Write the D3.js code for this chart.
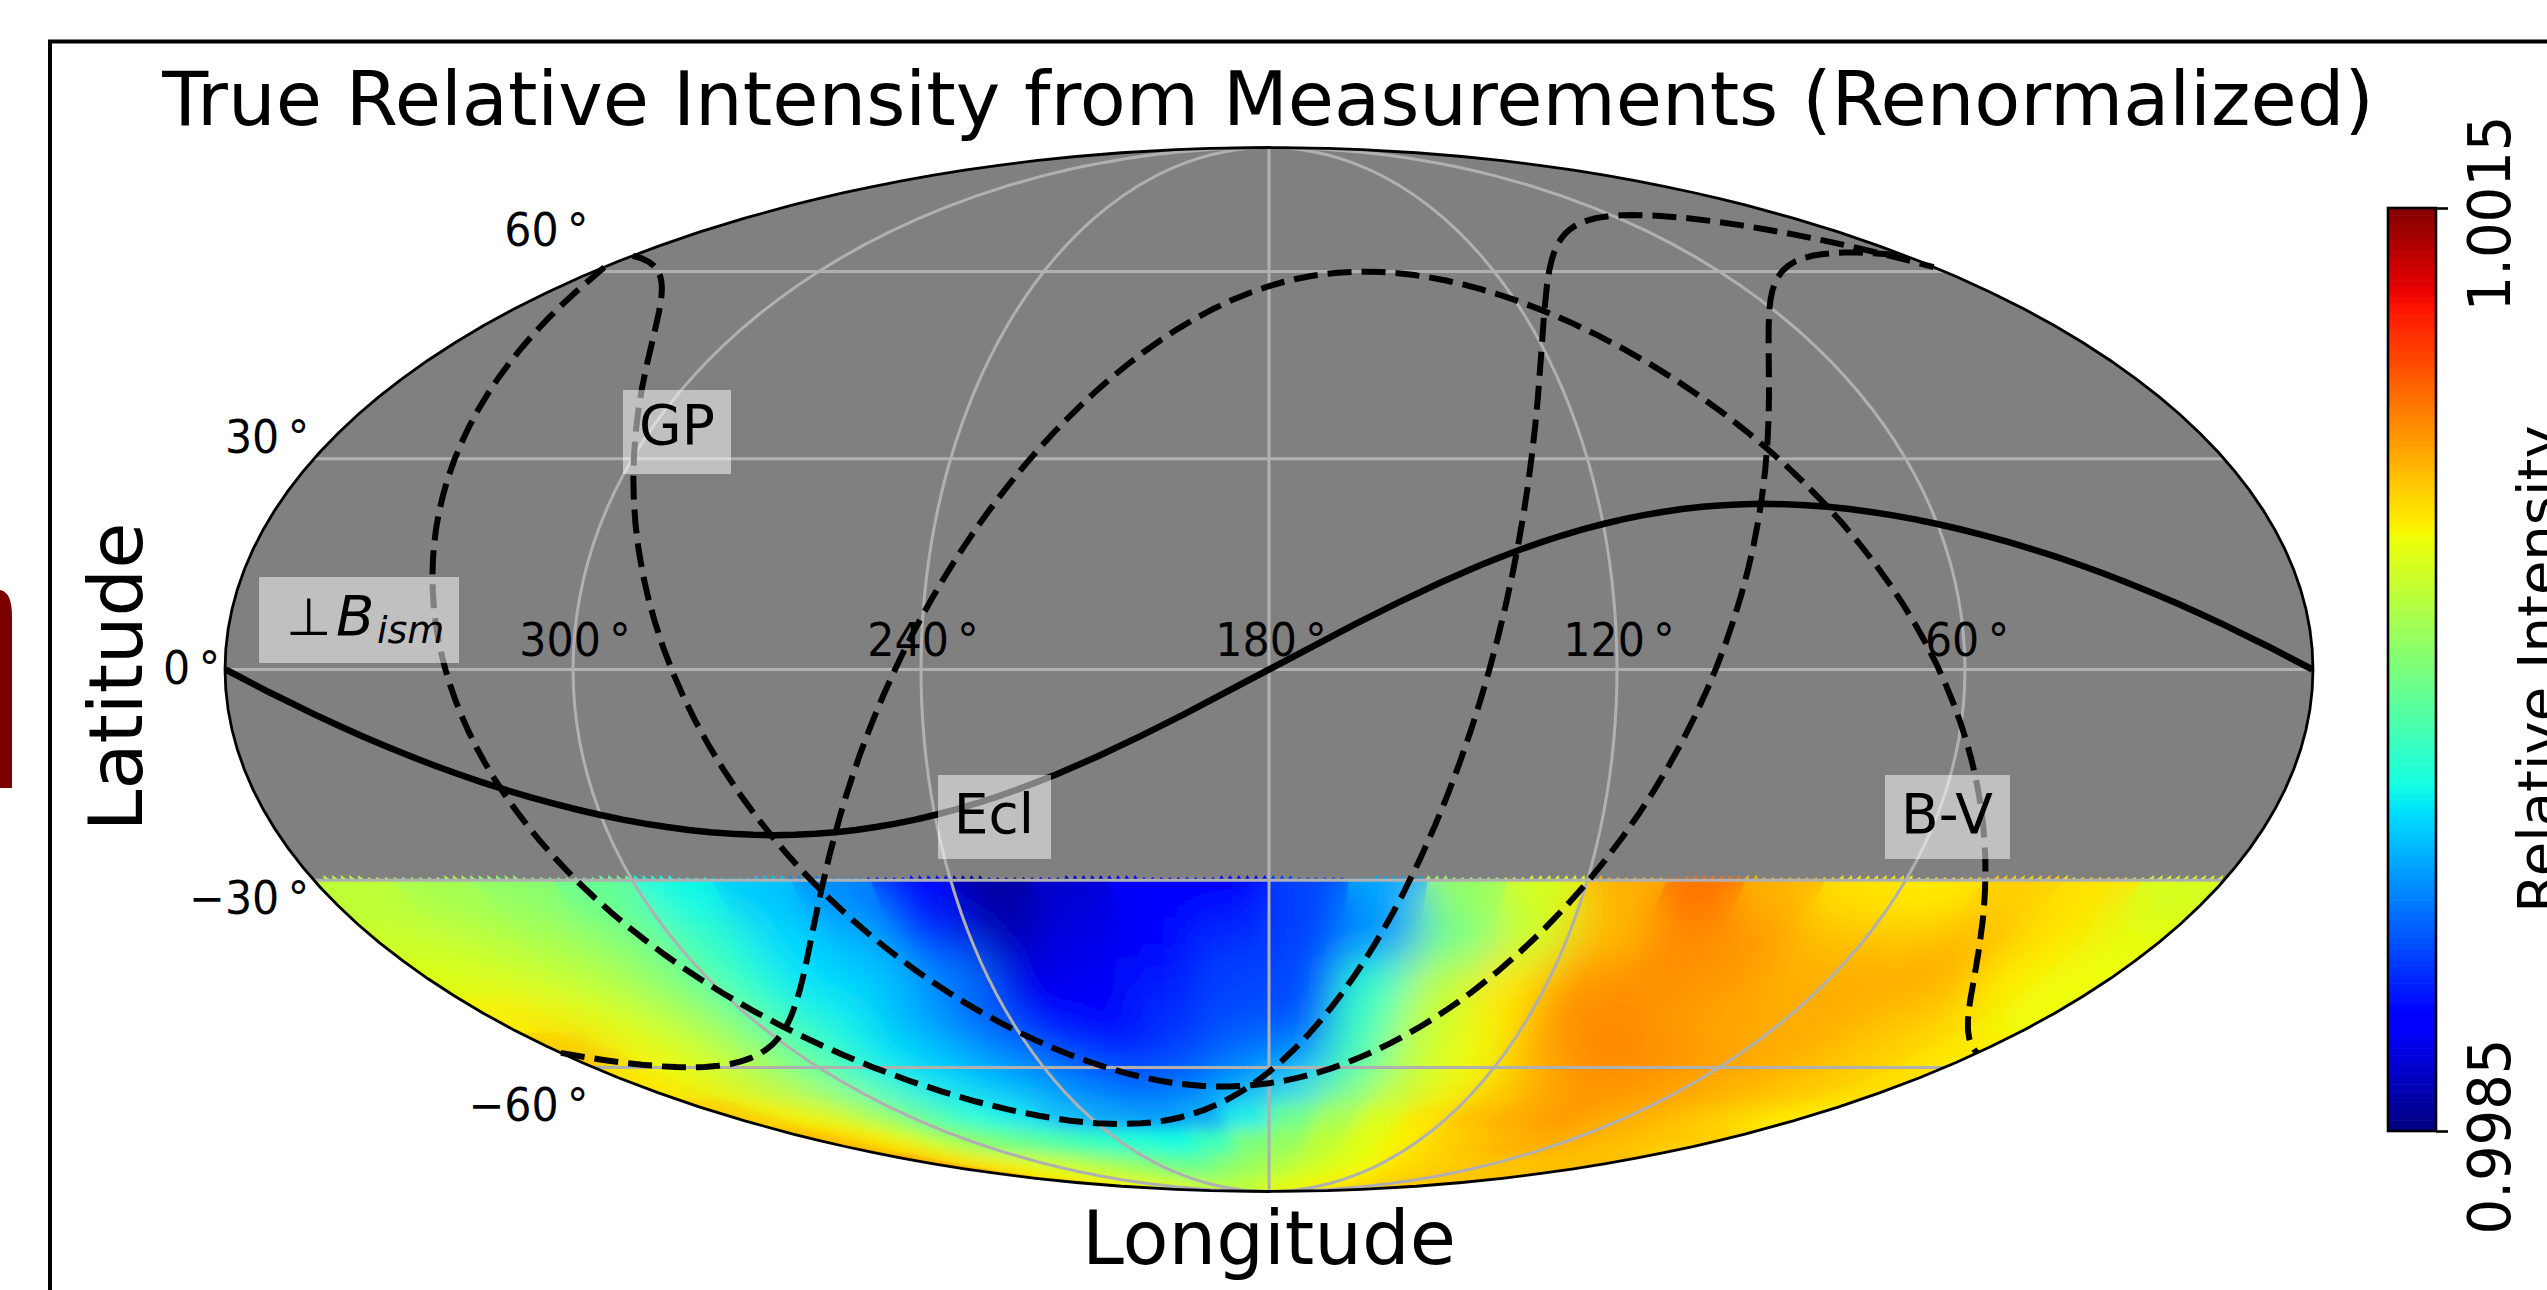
<!DOCTYPE html>
<html>
<head>
<meta charset="utf-8">
<title>True Relative Intensity</title>
<script src="https://cdnjs.cloudflare.com/ajax/libs/d3/7.8.5/d3.min.js"></script>
<style>
  html, body { margin: 0; background: #fff; overflow: hidden; }
  text { font-family: "DejaVu Sans", sans-serif; fill: #000; }
</style>
</head>
<body>
<div class="graph"></div>
<script>
var titleText = "True Relative Intensity from Measurements (Renormalized)";

var meridianTicks = [300, 240, 180, 120, 60];
var parallelTicks = [60, 30, 0, -30, -60];
var colorTicks = [0.9985, 1.0015];

// jet colormap
var jetPositions = [0, 0.11, 0.125, 0.34, 0.35, 0.375, 0.64, 0.65, 0.66, 0.89, 0.91, 1];
var jetColors = ["#000080", "#0000ff", "#0000ff", "#00dbff", "#00e6f7", "#15ffe2",
  "#eeff08", "#f7f500", "#ffec00", "#ff1300", "#e80000", "#800000"];

// plane crossings, lon / lat in degrees
var curveLons = [359.9, 330, 300, 270, 240, 210, 180, 150, 120, 90, 60, 30, 0.1];
var bismLats = [0, -12.2, -20.5, -23.4, -20.5, -12.2, 0, 12.2, 20.5, 23.4, 20.5, 12.2, 0];
var outerLats = [60.8, 22.0, -47.4, -66.4, -70.8, -69.6, -60.8, -22.0, 47.4, 66.4, 70.8, 69.6, 60.8];
var innerLats = [62.9, 55.7, 30.4, -24.3, -53.8, -62.5, -62.9, -55.7, -30.4, 24.3, 53.8, 62.5, 62.9];
var eclLats = [-57.4, -59.9, -55.0, -36.7, 7.7, 44.4, 57.4, 59.9, 55.0, 36.7, -7.7, -44.4, -57.4];

// intensity cells, 15 deg wide, running from lon 360 at the left rim to lon 0 at the right rim
var bandEdges = [-30, -36, -42, -48, -54, -60, -66, -72, -78, -84, -90];
var band33 = [1.00024,1.00015,1.00006,0.99991,0.99961,0.99946,0.99928,0.99892,0.99859,0.99871,0.99883,0.99889,0.99907,0.99937,1.00009,1.00033,1.00066,1.00087,1.00066,1.00051,1.00048,1.00057,1.00051,1.00033];
var band39 = [1.0003,1.00024,1.00015,1,0.99973,0.99952,0.9994,0.99901,0.99865,0.99877,0.99889,0.99901,0.99907,0.99928,0.99991,1.00027,1.00063,1.00078,1.00075,1.00063,1.0006,1.00066,1.00051,1.00039];
var band45 = [1.00036,1.0003,1.00021,1,0.9997,0.99952,0.99946,0.99925,0.99877,0.9988,0.99895,0.99907,0.9991,0.9997,1.00024,1.00051,1.00075,1.00078,1.00075,1.00066,1.00069,1.00069,1.00048,1.00042];
var band51 = [1.00048,1.00039,1.00027,1.00006,0.99973,0.99958,0.99937,0.99916,0.99886,0.99883,0.99901,0.9991,0.9991,0.99976,1.00027,1.00048,1.00078,1.00078,1.00072,1.00069,1.00069,1.00063,1.00057,1.00042];
var band57 = [1.00063,1.00042,1.0003,1.00006,0.99976,0.99955,0.99943,0.99925,0.99904,0.99892,0.99904,0.99919,0.99928,0.99976,1.00027,1.00042,1.00069,1.00081,1.00078,1.00072,1.00069,1.00063,1.00057,1.00048];
var band63 = [1.00051,1.00039,1.00021,1,0.9997,0.99955,0.99946,0.99937,0.99925,0.99916,0.99922,0.99934,0.99949,0.99988,1.00021,1.00042,1.00057,1.00072,1.00078,1.00075,1.00072,1.00066,1.0006,1.00051];
var band69 = [1.0006,1.00045,1.00033,1.00009,0.99982,0.99964,0.99955,0.9994,0.99931,0.99928,0.99934,0.99958,0.99994,1.00015,1.00036,1.00051,1.00063,1.00069,1.00075,1.00069,1.00066,1.0006,1.00054,1.00048];
var band75 = [1.00066,1.00051,1.00036,1.00015,1,0.99991,0.99982,0.99973,0.99967,0.99964,0.99976,1,1.00009,1.00024,1.00036,1.00045,1.00054,1.0006,1.00066,1.00069,1.00066,1.00063,1.0006,1.00057];
var band81 = [1.00075,1.00051,1.00045,1.00036,1.0003,1.00021,1.00012,1.00006,0.99994,0.99994,1.00006,1.00012,1.00021,1.0003,1.00036,1.00042,1.00051,1.00054,1.00057,1.0006,1.0006,1.0006,1.00063,1.00063];
var band87 = [1.00054,1.00054,1.00048,1.00042,1.00039,1.00036,1.0003,1.00024,1.00021,1.00021,1.00024,1.0003,1.00036,1.00039,1.00042,1.00045,1.00048,1.00051,1.00054,1.00057,1.0006,1.0006,1.0006,1.0006];
var bands = [band33, band39, band45, band51, band57, band63, band69, band75, band81, band87];

var width = 2547;
var height = 1290;

var svg = d3.select(".graph").append("svg")
  .attr("width", width)
  .attr("height", height)
  .style("display", "block");

function mollweideRaw(lambda, phi) {
  var theta = phi;
  if (Math.abs(phi) < Math.PI / 2 - 1e-6) {
    for (var i = 0; i < 60; i++) {
      var delta = (2 * theta + Math.sin(2 * theta) - Math.PI * Math.sin(phi)) / (2 + 2 * Math.cos(2 * theta));
      theta -= delta;
      if (Math.abs(delta) < 1e-8) break;
    }
  }
  return [2 * Math.SQRT2 / Math.PI * lambda * Math.cos(theta), Math.SQRT2 * Math.sin(theta)];
}

var projection = d3.geoProjection(mollweideRaw)
  .rotate([-180, 0])
  .reflectX(true)
  .scale(369.1)
  .translate([1269, 669.5])
  .precision(0.2);

var path = d3.geoPath(projection);

var color = d3.scaleLinear()
  .domain(jetPositions.map(function (p) { return 0.9985 + 0.003 * p; }))
  .range(jetColors)
  .clamp(true);

function cellRing(lonA, lonB, latN, latS) {
  // clockwise ring, lonA < lonB
  var north = d3.range(lonA, lonB, 3).concat([lonB]).map(function (l) { return [l, latN]; });
  var south = d3.range(lonB, lonA, -3).concat([lonA]).map(function (l) { return [l, latS]; });
  var ring = north.concat(south);
  ring.push(ring[0]);
  return {type: "Polygon", coordinates: [ring]};
}

var defs = svg.append("defs");

defs.append("clipPath").attr("id", "heatClip")
  .append("path")
  .attr("d", path(cellRing(0.01, 359.99, -30, -89.99)));

function softFilter(id, sigma) {
  var f = defs.append("filter").attr("id", id)
    .attr("filterUnits", "userSpaceOnUse")
    .attr("x", 0).attr("y", 0).attr("width", width).attr("height", height);
  f.append("feGaussianBlur").attr("in", "SourceGraphic").attr("stdDeviation", sigma).attr("result", "soft");
  var merge = f.append("feMerge");
  merge.append("feMergeNode").attr("in", "SourceGraphic");
  merge.append("feMergeNode").attr("in", "soft");
}

softFilter("softWide", 22);
softFilter("softTight", 8);

// the lower bands are thin, they fade in with less blur
var fade = defs.append("linearGradient").attr("id", "poleFade")
  .attr("gradientUnits", "userSpaceOnUse")
  .attr("x1", 0).attr("x2", 0).attr("y1", 1085).attr("y2", 1135);
fade.append("stop").attr("offset", 0).attr("stop-color", "#000");
fade.append("stop").attr("offset", 1).attr("stop-color", "#fff");
defs.append("mask").attr("id", "poleMask")
  .attr("maskUnits", "userSpaceOnUse")
  .attr("x", 0).attr("y", 0).attr("width", width).attr("height", height)
  .append("rect").attr("width", width).attr("height", height).attr("fill", "url(#poleFade)");

// frame and the sliver at the left edge of the page
svg.append("path").attr("d", "M0,590 Q12,592 12,616 V788 H0 Z").attr("fill", "#7b0000");
svg.append("path").attr("d", "M50,1290 V41.5 H2547").attr("fill", "none").attr("stroke", "#000").attr("stroke-width", 4);

svg.append("path")
  .attr("d", path({type: "Sphere"}))
  .attr("fill", "#808080");

// intensity map
var cells = [];
bands.forEach(function (row, r) {
  row.forEach(function (value, c) {
    var lonB = 360 - 15 * c;
    var lonA = lonB - 15;
    cells.push({
      band: r,
      value: value,
      ring: cellRing(Math.max(lonA, 0.01), Math.min(lonB, 359.99), bandEdges[r], Math.max(bandEdges[r + 1], -89.99))
    });
  });
});

function drawCells(parent, list) {
  parent.selectAll("path")
    .data(list)
    .enter().append("path")
    .attr("d", function (d) { return path(d.ring); })
    .attr("fill", function (d) { return color(d.value); })
    .attr("stroke", function (d) { return color(d.value); })
    .attr("stroke-width", 1);
}

var heat = svg.append("g").attr("clip-path", "url(#heatClip)");

drawCells(heat.append("g").attr("filter", "url(#softWide)"), cells);
drawCells(
  heat.append("g").attr("mask", "url(#poleMask)").append("g").attr("filter", "url(#softTight)"),
  cells.filter(function (d) { return d.band >= 5; })
);

// pixel teeth poking out along the top edge of the map
var teeth = d3.range(0.4, 358.4, 1.62);
svg.append("g")
  .selectAll("path")
  .data(teeth)
  .enter().append("path")
  .attr("d", function (lon, i) {
    var top = Math.floor(i / 9) % 2 ? -29.5 : -29.2;
    return path({type: "Polygon", coordinates: [[[lon, -30], [lon + 0.6, top], [lon + 1.2, -30], [lon, -30]]]});
  })
  .attr("fill", function (lon) {
    return color(band33[Math.min(23, Math.floor((360 - lon) / 15))]);
  });

// graticule
var gridLines = meridianTicks.map(function (lon) {
  return {type: "LineString", coordinates: d3.range(-89.9, 90, 5).concat([89.9]).map(function (lat) { return [lon, lat]; })};
}).concat(parallelTicks.map(function (lat) {
  return {type: "LineString", coordinates: d3.range(0.01, 360, 2).concat([359.99]).map(function (lon) { return [lon, lat]; })};
}));

svg.append("g")
  .selectAll("path")
  .data(gridLines)
  .enter().append("path")
  .attr("d", path)
  .attr("fill", "none")
  .attr("stroke", "#b0b0b0")
  .attr("stroke-width", 3);

// planes
function curve(lats) {
  return {type: "LineString", coordinates: curveLons.map(function (lon, i) { return [lon, lats[i]]; })};
}

svg.selectAll(".dashed")
  .data([outerLats, innerLats, eclLats])
  .enter().append("path")
  .attr("class", "dashed")
  .attr("d", function (lats) { return path(curve(lats)); })
  .attr("fill", "none")
  .attr("stroke", "#000")
  .attr("stroke-width", 6)
  .attr("stroke-dasharray", "24 10");

svg.append("path")
  .attr("d", path(curve(bismLats)))
  .attr("fill", "none")
  .attr("stroke", "#000")
  .attr("stroke-width", 6.5);

svg.append("path")
  .attr("d", path({type: "Sphere"}))
  .attr("fill", "none")
  .attr("stroke", "#000")
  .attr("stroke-width", 2.8);

// plane labels
function labelBox(x, y, w, h) {
  svg.append("rect")
    .attr("x", x).attr("y", y).attr("width", w).attr("height", h)
    .attr("fill", "#fff").attr("fill-opacity", 0.5);
}

labelBox(259, 577, 200, 86);
labelBox(623, 390, 108, 84);
labelBox(938, 775, 113, 84);
labelBox(1885, 775, 125, 84);

var bism = svg.append("text").attr("y", 635).attr("font-size", 56);
bism.append("tspan").attr("x", 286).attr("font-size", 52).text("\u22a5");
bism.append("tspan").attr("x", 336).attr("font-style", "italic").text("B");
bism.append("tspan").attr("x", 377).attr("dy", 8).attr("font-size", 38).attr("font-style", "italic").text("ism");

svg.append("text").attr("x", 677).attr("y", 444).attr("text-anchor", "middle").attr("font-size", 55).text("GP");
svg.append("text").attr("x", 994).attr("y", 833).attr("text-anchor", "middle").attr("font-size", 55).text("Ecl");
svg.append("text").attr("x", 1947).attr("y", 833).attr("text-anchor", "middle").attr("font-size", 55).text("B-V");

// tick labels
function degreeLabel(sel, value) {
  sel.append("tspan").text(d3.format("")(value).replace("-", "\u2212"));
  sel.append("tspan").attr("dx", 9).text("\u00b0");
}

meridianTicks.forEach(function (lon) {
  var p = projection([lon, 0]);
  svg.append("text")
    .attr("transform", "translate(" + (p[0] + 2) + "," + (p[1] - 14) + ") scale(0.93,1)")
    .attr("text-anchor", "middle")
    .attr("font-size", 46)
    .call(degreeLabel, lon);
});

parallelTicks.forEach(function (lat) {
  var p = projection([359.99, lat]);
  svg.append("text")
    .attr("transform", "translate(" + (p[0] - 5) + "," + (p[1] + 14 - 0.666 * lat) + ") scale(0.93,1)")
    .attr("text-anchor", "end")
    .attr("font-size", 46)
    .call(degreeLabel, lat);
});

// titles
svg.append("text").attr("x", 1268).attr("y", 125).attr("text-anchor", "middle").attr("font-size", 75.2).text(titleText);
svg.append("text").attr("x", 1269).attr("y", 1264).attr("text-anchor", "middle").attr("font-size", 75.2).text("Longitude");
svg.append("text")
  .attr("transform", "translate(142,677) rotate(-90)")
  .attr("text-anchor", "middle")
  .attr("font-size", 75)
  .text("Latitude");

// colorbar
var barY = d3.scaleLinear().domain([0.9985, 1.0015]).range([1131, 208]);
var barSteps = d3.range(0, 1, 1 / 256);

svg.append("g")
  .selectAll("rect")
  .data(barSteps)
  .enter().append("rect")
  .attr("x", 2388)
  .attr("width", 48)
  .attr("y", function (s) { return barY(0.9985 + 0.003 * (s + 1 / 256)); })
  .attr("height", 923 / 256 + 0.6)
  .attr("fill", function (s) { return color(0.9985 + 0.003 * s); });

svg.append("rect")
  .attr("x", 2388).attr("y", 208).attr("width", 48).attr("height", 923)
  .attr("fill", "none").attr("stroke", "#000").attr("stroke-width", 2.6);

var barAxis = d3.axisRight(barY)
  .tickValues(colorTicks)
  .tickFormat(d3.format(".4f"))
  .tickSize(12);

var barAxisGroup = svg.append("g")
  .attr("transform", "translate(2436,0)")
  .call(barAxis);

barAxisGroup.select(".domain").remove();
barAxisGroup.selectAll("line").attr("stroke-width", 2.6);
barAxisGroup.selectAll("text")
  .attr("x", null)
  .attr("dy", null)
  .attr("text-anchor", "middle")
  .attr("font-size", 56)
  .style("font-family", "'DejaVu Sans'")
  .attr("transform", "translate(74,5) rotate(-90) scale(1,1.05)");

svg.append("text")
  .attr("transform", "translate(2557,669) rotate(-90)")
  .attr("text-anchor", "middle")
  .attr("font-size", 56)
  .text("Relative Intensity");
</script>
</body>
</html>
